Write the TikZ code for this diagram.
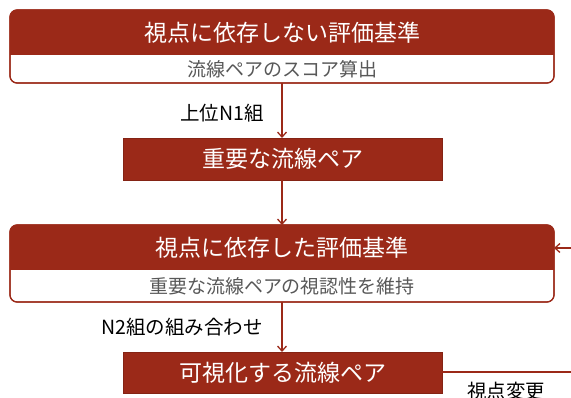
\documentclass[tikz,border=0pt]{standalone}
\usepackage{fontspec}
\setmainfont{Noto Sans CJK JP}
\usetikzlibrary{arrows.meta}
\definecolor{brick}{RGB}{155,41,24}
\definecolor{subgray}{RGB}{88,88,88}
\begin{document}
\begin{tikzpicture}[x=1pt,y=1pt,
  card/.style={draw=brick, line width=1.2pt, fill=white, rounded corners=7pt, minimum width=544pt, inner sep=0pt, outer sep=0pt},
  head/.style={text=white, font=\fontsize{23}{27}\selectfont},
  sub/.style={text=subgray, font=\fontsize{19}{23}\selectfont},
  plainbox/.style={fill=brick, draw=brick!85!black, line width=0.6pt, minimum width=319pt, inner sep=0pt, outer sep=0pt, text=white, font=\fontsize{23}{27}\selectfont},
  lab/.style={text=black, font=\fontsize{19.5}{23}\selectfont},
  conn/.style={draw=brick, line width=1.3pt, -{Straight Barb[length=5pt,width=9pt]}},
  line/.style={draw=brick, line width=1.3pt},
]
\useasboundingbox (0,0) rectangle (571,-398);
% top card
\node[card, minimum height=73pt] (A) at (282,-46.5) {};
\fill[brick] ([yshift=-45pt]A.north west) [rounded corners=7pt] -- (A.north west) -- (A.north east) [sharp corners] -- ([yshift=-45pt]A.north east) -- cycle;
\draw[brick, line width=1.2pt, rounded corners=7pt] (A.north west) rectangle (A.south east);
\node[head] (At) at (282,-32.5) {視点に依存しない評価基準};
\node[sub] (As) at (282,-69) {流線ペアのスコア算出};
% box B
\node[plainbox, minimum height=42pt] (B) at (282.5,-159) {重要な流線ペア};
% card C
\node[card, minimum height=77pt] (C) at (282,-263.5) {};
\fill[brick] ([yshift=-45pt]C.north west) [rounded corners=7pt] -- (C.north west) -- (C.north east) [sharp corners] -- ([yshift=-45pt]C.north east) -- cycle;
\draw[brick, line width=1.2pt, rounded corners=7pt] (C.north west) rectangle (C.south east);
\node[head] (Ct) at (282,-247.5) {視点に依存した評価基準};
\node[sub] (Cs) at (282,-286) {重要な流線ペアの視認性を維持};
% box D
\node[plainbox, minimum height=41pt] (D) at (282.5,-372.5) {可視化する流線ペア};
% connectors
\draw[conn] (A.south) -- (A.south |- B.north);
\draw[conn] (A.south |- B.south) -- (A.south |- C.north);
\draw[conn] (C.south) -- (C.south |- D.north);
\coordinate (cin) at (571,-248);
\draw[conn] (cin) -- (cin -| C.east);
\coordinate (dout) at (571,-372);
\draw[line] (D.east |- dout) -- (dout);
% labels
\node[lab] (l1) at (222,-113) {上位N1組};
\node[lab] (l2) at (182,-327) {N2組の組み合わせ};
\node[lab] (l3) at (506,-391) {視点変更};
\end{tikzpicture}
\end{document}
